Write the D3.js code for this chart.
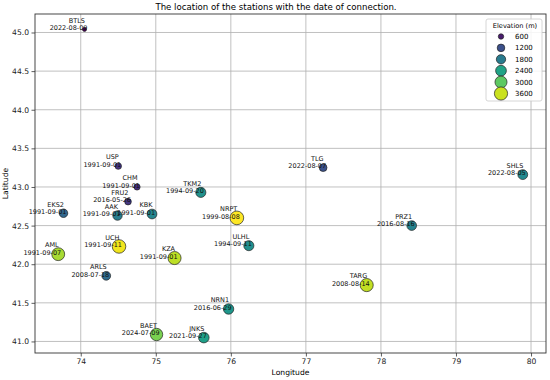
<!DOCTYPE html>
<html>
<head>
<meta charset="utf-8">
<script src="https://cdn.jsdelivr.net/npm/d3@7"></script>
<style>
  body { margin: 0; background: #fff; }
  svg { font-family: "DejaVu Sans", sans-serif; }
</style>
</head>
<body>
<div id="chart"></div>
<script>
// station data
const names = ["BTLS", "USP", "CHM", "FRU2", "AAK", "KBK", "EKS2", "TKM2", "UCH", "AML", "KZA",
  "ARLS", "NRPT", "ULHL", "TLG", "NRN1", "BAET", "JNKS", "PRZ1", "SHLS", "TARG"];
const lons = [74.05, 74.50, 74.75, 74.63, 74.49, 74.95, 73.77, 75.60, 74.51, 73.70, 75.25,
  74.34, 76.08, 76.24, 77.23, 75.97, 75.01, 75.64, 78.41, 79.89, 77.81];
const lats = [45.04, 43.27, 43.00, 42.81, 42.63, 42.65, 42.66, 42.93, 42.23, 42.13, 42.08,
  41.85, 42.60, 42.24, 43.25, 41.42, 41.09, 41.05, 42.50, 43.16, 41.73];
const elevations = [340, 870, 800, 900, 1830, 1970, 1510, 2110, 3810, 3420, 3530,
  1580, 3880, 2100, 1225, 2220, 3170, 2320, 1930, 2000, 3560];
const dates = ["2022-08-09", "1991-09-01", "1991-09-01", "2016-05-26", "1991-09-01", "1991-09-01",
  "1991-09-01", "1994-09-20", "1991-09-11", "1991-09-07", "1991-09-01", "2008-07-18", "1999-08-08",
  "1994-09-11", "2022-08-07", "2016-06-29", "2024-07-09", "2021-09-27", "2016-08-16", "2022-08-05",
  "2008-08-14"];
const legendValues = [600, 1200, 1800, 2400, 3000, 3600];
const xTicks = [74, 75, 76, 77, 78, 79, 80];
const yTicks = [41.0, 41.5, 42.0, 42.5, 43.0, 43.5, 44.0, 44.5, 45.0];

const stations = names.map((n, i) => ({
  name: n, lon: lons[i], lat: lats[i], elev: elevations[i], date: dates[i]
}));

const W = 550, H = 380;
const margin = { top: 14, right: 4, bottom: 27, left: 35 };
const width = W - margin.left - margin.right;
const height = H - margin.top - margin.bottom;

const svg = d3.select("#chart").append("svg")
  .attr("width", W).attr("height", H);

// title
svg.append("text")
  .attr("x", 276).attr("y", 10)
  .attr("text-anchor", "middle")
  .attr("font-size", "8.6px")
  .attr("fill", "#000")
  .text("The location of the stations with the date of connection.");

const g = svg.append("g").attr("transform", `translate(${margin.left},${margin.top})`);

// 5% padding like matplotlib
function padded(ext) {
  const d = (ext[1] - ext[0]) * 0.05;
  return [ext[0] - d, ext[1] + d];
}
const x = d3.scaleLinear().domain(padded(d3.extent(lons))).range([0, width]);
const y = d3.scaleLinear().domain(padded(d3.extent(lats))).range([height, 0]);
const color = d3.scaleSequential(d3.interpolateViridis).domain(d3.extent(elevations));
const r = d3.scaleSqrt().domain([0, 3600]).range([0, 6.6]);

// grid
g.append("g").selectAll("line").data(xTicks).join("line")
  .attr("x1", d => x(d)).attr("x2", d => x(d))
  .attr("y1", 0).attr("y2", height)
  .attr("stroke", "#b0b0b0").attr("stroke-width", 0.8);
g.append("g").selectAll("line").data(yTicks).join("line")
  .attr("y1", d => y(d)).attr("y2", d => y(d))
  .attr("x1", 0).attr("x2", width)
  .attr("stroke", "#b0b0b0").attr("stroke-width", 0.8);

// axes
const xAxis = g.append("g").attr("transform", `translate(0,${height})`)
  .call(d3.axisBottom(x).tickValues(xTicks).tickFormat(d3.format("d")).tickSize(3.5).tickPadding(2.5));
const yAxis = g.append("g")
  .call(d3.axisLeft(y).tickValues(yTicks).tickFormat(d3.format(".1f")).tickSize(3.5).tickPadding(2.5));
[xAxis, yAxis].forEach(a => {
  a.select(".domain").remove();
  a.selectAll("text").attr("font-size", "7.6px").attr("fill", "#222").attr("font-family", "DejaVu Sans");
  a.selectAll("line").attr("stroke", "#333").attr("stroke-width", 0.8);
});

// frame
g.append("rect").attr("width", width).attr("height", height)
  .attr("fill", "none").attr("stroke", "#333").attr("stroke-width", 0.9);

// axis labels
svg.append("text").attr("x", margin.left + width / 2).attr("y", 375)
  .attr("text-anchor", "middle").attr("font-size", "7.6px").text("Longitude");
svg.append("text").attr("transform", `translate(8,${margin.top + height / 2}) rotate(-90)`)
  .attr("text-anchor", "middle").attr("font-size", "7.6px").text("Latitude");

// points
g.append("g").selectAll("circle").data(stations).join("circle")
  .attr("cx", d => x(d.lon)).attr("cy", d => y(d.lat))
  .attr("r", d => r(d.elev))
  .attr("fill", d => color(d.elev))
  .attr("stroke", "#222").attr("stroke-width", 0.7);

// labels: name above, date below, right aligned at the point
const lab = g.append("g").attr("font-size", "6.5px").attr("fill", "#111");
lab.selectAll("text.nm").data(stations).join("text").attr("class", "nm")
  .attr("x", d => x(d.lon) + 0.5).attr("y", d => y(d.lat) - 9)
  .attr("dy", "0.35em").attr("text-anchor", "end").text(d => d.name);
lab.selectAll("text.dt").data(stations).join("text").attr("class", "dt")
  .attr("x", d => x(d.lon) + 3).attr("y", d => y(d.lat) - 1.5)
  .attr("dy", "0.35em").attr("text-anchor", "end").text(d => d.date);

// legend
const leg = svg.append("g").attr("transform", "translate(486,19)");
leg.append("rect").attr("width", 56).attr("height", 82).attr("rx", 2)
  .attr("fill", "#fff").attr("fill-opacity", 0.85)
  .attr("stroke", "#ccc").attr("stroke-width", 0.8);
leg.append("text").attr("x", 29).attr("y", 6.5).attr("dy", "0.35em")
  .attr("text-anchor", "middle").attr("font-size", "6.6px").text("Elevation (m)");
const items = leg.selectAll("g.item").data(legendValues).join("g").attr("class", "item")
  .attr("transform", (d, i) => `translate(15,${17.5 + i * 11.4})`);
items.append("circle").attr("r", d => r(d)).attr("fill", d => color(d))
  .attr("stroke", "#222").attr("stroke-width", 0.7);
items.append("text").attr("x", 14).attr("dy", "0.35em")
  .attr("font-size", "7px").text(d => d);
</script>
</body>
</html>
